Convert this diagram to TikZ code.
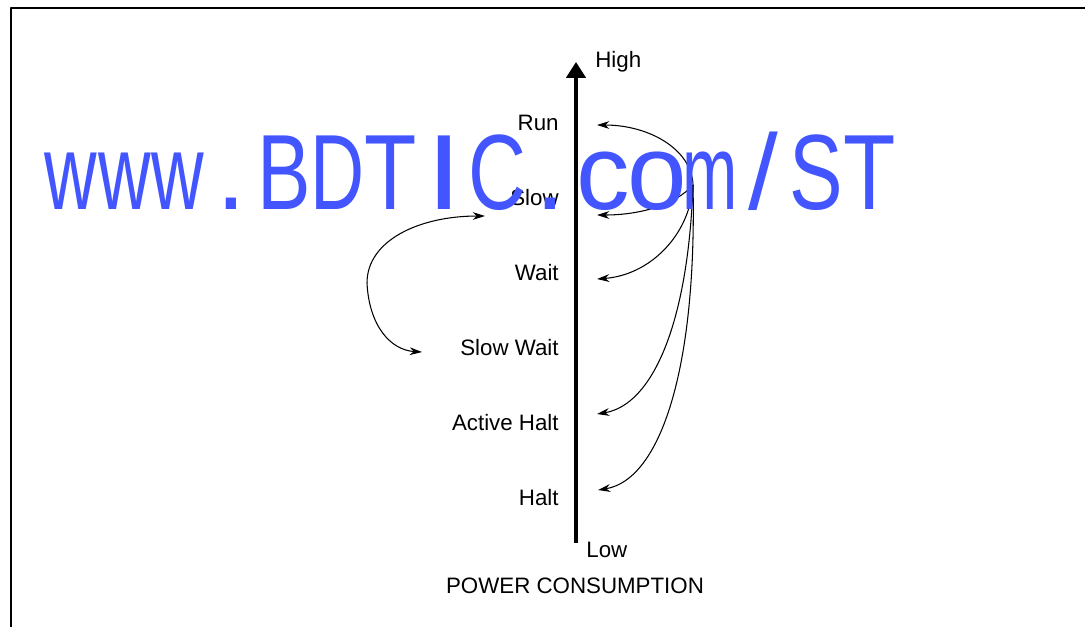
\documentclass[tikz,border=0pt]{standalone}
\usepackage{fontspec}
\setmainfont{Liberation Sans}
\usepackage{graphicx}
\usetikzlibrary{arrows.meta}
\definecolor{wmblue}{RGB}{66,85,255}
\newcommand\wmc[2][0.75]{\makebox[30.3pt]{\scalebox{#1}[1]{#2}}}
\begin{document}
\begin{tikzpicture}[x=0.02cm, y=-0.02cm, font=\fontsize{12.7}{15}\selectfont, line join=round,
		>={Stealth[length=7pt,width=4.4pt]},
		lbl/.style={anchor=base east, inner sep=0pt},
		flow/.style={line width=0.6pt}
		]
		\useasboundingbox (0,0) rectangle (1085,627);
		% frame
		\draw[line width=1.1pt] (11,627) -- (11,8) -- (1085,8);
		% power axis
		\coordinate (low) at (576,543);
		\coordinate (high) at (576,62);
		\draw[line width=1.8pt, -{Triangle[length=9pt,width=11pt]}] (low) -- (high);
		\node[anchor=base west, inner sep=0pt] (highlbl) at (595,67) {High};
		\node[anchor=base west, inner sep=0pt] (lowlbl) at (586,557) {Low};
		\node[anchor=base, inner sep=0pt] (axisname) at (575,593) {POWER CONSUMPTION};
		% modes
		\node[lbl] (run) at (559,130) {Run};
		\node[lbl] (slow) at (559,205) {Slow};
		\node[lbl] (wait) at (559,280) {Wait};
		\node[lbl] (slowwait) at (559,355) {Slow Wait};
		\node[lbl] (activehalt) at (559,430) {Active Halt};
		\node[lbl] (halt) at (559,505) {Halt};
		% transitions
		\coordinate (hub) at (693,185);
		\coordinate (runin) at (597,125);
		\coordinate (slowin) at (597,215);
		\coordinate (waitin) at (597,279);
		\coordinate (ahaltin) at (597,414);
		\coordinate (haltin) at (598,490);
		\draw[->, flow] (hub) .. controls (692,150) and (650,125) .. (runin);
		\draw[->, flow] (hub) .. controls (675,205) and (640,215) .. (slowin);
		\draw[->, flow] (hub) .. controls (690,235) and (650,275) .. (waitin);
		\draw[->, flow] (hub) .. controls (688,325) and (652,405) .. (ahaltin);
		\draw[->, flow] (hub) .. controls (697,370) and (660,480) .. (haltin);
		\coordinate (slowout) at (485,216);
		\coordinate (bend) at (367,283);
		\coordinate (swin) at (422,352);
		\draw[<->, flow] (slowout) .. controls (420,216) and (367,240) .. (bend)
			.. controls (369,325) and (390,350) .. (swin);
		% watermark
		\node[anchor=base west, inner sep=0pt, text=wmblue, font=\fontsize{60.9}{70}\selectfont] (wmark) at (44.25,209)
			{\wmc[0.68]{w}\wmc[0.68]{w}\wmc[0.68]{w}\wmc[1]{.}\wmc{B}\wmc[0.7]{D}\wmc[0.8]{T}\wmc[1.2]{I}\wmc{C}\wmc[1]{.}\wmc[1]{c}\wmc[1]{o}\wmc[0.62]{m}\wmc[1]{/}\wmc{S}\wmc[0.8]{T}};
\end{tikzpicture}
\end{document}
